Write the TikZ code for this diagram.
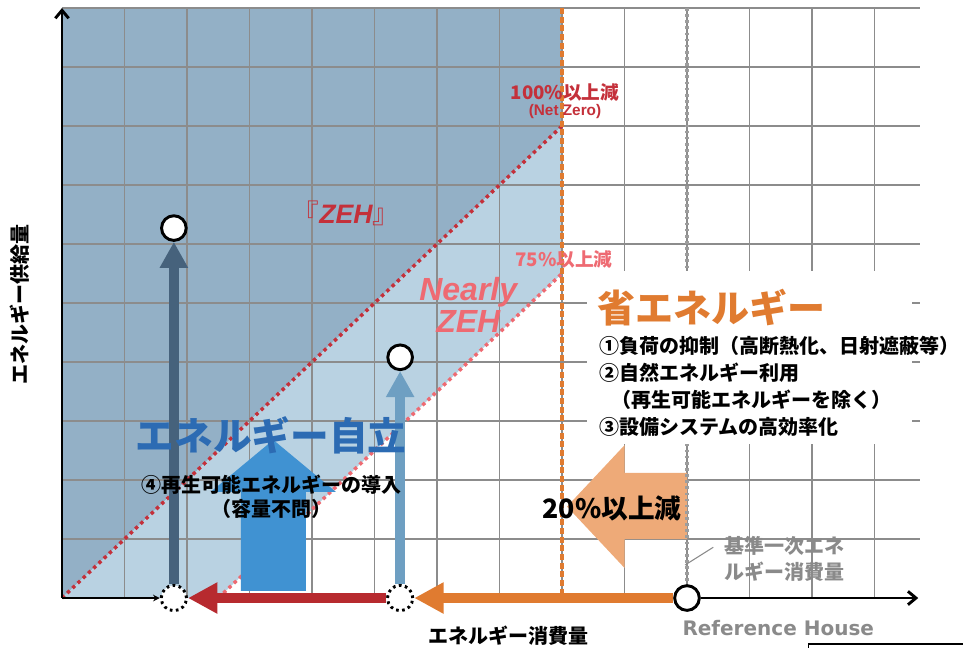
\documentclass[tikz,border=0pt]{standalone}
\usepackage{fontspec}
\setmainfont{Noto Sans CJK JP}
\newfontfamily\latinfont{Liberation Sans}
\newfontfamily\widefont{DejaVu Sans}
\usetikzlibrary{arrows.meta}

\definecolor{zehblue}{HTML}{93B0C6}
\definecolor{nearlyblue}{HTML}{B9D2E2}
\definecolor{gridgray}{HTML}{8C8C8C}
\definecolor{zehred}{HTML}{C4303A}
\definecolor{nearlyred}{HTML}{EE6A72}
\definecolor{saveorange}{HTML}{E07B30}
\definecolor{paleorange}{HTML}{EEAA78}
\definecolor{cutred}{HTML}{B72A2F}
\definecolor{slateblue}{HTML}{46627C}
\definecolor{midblue}{HTML}{6E9FC2}
\definecolor{pvblue}{HTML}{4092D2}
\definecolor{titleblue}{HTML}{2C6BB3}
\definecolor{labelgray}{HTML}{8A8A8A}

\tikzset{
	gridline/.style={draw=gridgray, line width=0.9pt},
	axisline/.style={line width=2.2pt},
	zeroline/.style={draw=zehred, line width=2.6pt, dash pattern=on 2.6pt off 2.8pt},
	nearlyline/.style={draw=nearlyred, line width=2.6pt, dash pattern=on 2.6pt off 2.8pt},
	flowline/.style={line width=6.8pt, -{Triangle[length=22pt,width=22pt]}},
	riseline/.style={line width=7.5pt, -{Triangle[length=19.5pt,width=20pt]}},
	valuedot/.style={circle, draw=black, fill=white, line width=2.2pt, minimum size=18.5pt, inner sep=0pt},
	basedot/.style={circle, draw=black, fill=white, line width=2.2pt, dash pattern=on 2pt off 2.6pt, minimum size=19pt, inner sep=0pt},
	jptext/.style={font=\bfseries\fontsize{#1}{#1}\selectfont, inner sep=0pt},
}

\begin{document}
\begin{tikzpicture}[x=46.875pt, y=44.25pt]
		\useasboundingbox (-0.992,-0.847) rectangle (14.416,10.136);
		
		\fill[zehblue] (0,0) -- (0,10) -- (8,10) -- (8,8) -- cycle;
		\fill[nearlyblue] (0,0) -- (8,8) -- (8,5.5) -- (2.5,0) -- cycle;
		
		\foreach \i in {1,...,13}
			\draw[gridline] (\i,0) -- (\i,10);
		\foreach \j in {1,...,10}
			\draw[gridline] (0,\j) -- (13.72,\j);
		
		\fill[paleorange] (8.08,1.55) -- (9,2.59) -- (9,2.12) -- (10,2.12) -- (10,1.0) -- (9,1.0) -- (9,0.51) -- cycle;
		
		\draw[zeroline] (0,0) -- (8,8);
		\draw[nearlyline] (2.5,0) -- (8,5.5);
		
		\coordinate (O) at (0,0);
		\coordinate (xend) at (13.7,0);
		\coordinate (yend) at (0,10);
		\node[valuedot] (ref) at (10,0) {};
		\node[basedot] (dot1) at (1.79,0) {};
		\node[basedot] (dot2) at (5.41,0) {};
		\node[valuedot] (top1) at (1.79,6.27) {};
		\node[valuedot] (top2) at (5.41,4.08) {};
		
		\draw[draw=saveorange, line width=3.6pt, dash pattern=on 4.5pt off 2pt] (8,10) -- (8,0);
		\draw[draw=gridgray!85, line width=2.4pt, dash pattern=on 2pt off 2.6pt] (10,10) -- (ref.north);
		
		\fill[white] (8.4,2.61) rectangle (13.6,5.54);
		
		\fill[pvblue] (2.86,0.12) -- (2.86,1.80) -- (2.38,1.80) -- (3.38,2.68) -- (4.38,1.80) -- (3.90,1.80) -- (3.90,0.12) -- cycle;
		
		\draw[riseline, slateblue] (dot1.north) -- (top1.south);
		\draw[riseline, midblue] (dot2.north) -- (top2.south);
		
		\node[jptext=15pt, rotate=90] (supplylabel) at (-0.672,4.97) {エネルギー供給量};
		\node[jptext=15pt] (uselabel) at (7.15,-0.644) {エネルギー消費量};
		\node[font=\widefont\bfseries\fontsize{15pt}{15pt}\selectfont, text=labelgray, inner sep=0pt] (reflabel) at (11.46,-0.508) {Reference House};
		
		\node[jptext=14pt, text=zehred] (zerolabel) at (8.048,8.576) {100\%以上減};
		\node[font=\latinfont\bfseries\fontsize{11.5pt}{11.5pt}\selectfont, text=zehred, inner sep=0pt] (netzero) at (8.048,8.237) {(Net Zero)};
		\node[jptext=14pt, text=nearlyred] (nearlypct) at (8.03,5.746) {75\%以上減};
		\node[font=\latinfont\bfseries\itshape\fontsize{24pt}{23.5pt}\selectfont, text=nearlyred, align=center, inner sep=0pt] (nearlylabel) at (6.5,4.97) {Nearly\\ZEH};
		\node[font=\fontsize{20pt}{20pt}\selectfont, text=zehred, inner sep=0pt] (zehlabel) at (4.544,6.525) {『{\latinfont\bfseries\itshape ZEH}』};
		
		\node[jptext=28.5pt, text=saveorange, anchor=west] (savetitle) at (8.56,4.915) {省エネルギー};
		\node[font=\bfseries\fontsize{15pt}{20.25pt}\selectfont, align=left, anchor=west, inner sep=0pt] (savelist) at (8.59,3.585) {①負荷の抑制（高断熱化、日射遮蔽等）\\②自然エネルギー利用\\\hspace*{0.6em}（再生可能エネルギーを除く）\\③設備システムの高効率化};
		\node[jptext=20pt] (cutlabel) at (8.8,1.525) {20\%以上減};
		
		\node[jptext=29pt, text=titleblue] (selflabel) at (3.344,2.763) {エネルギー自立};
		\node[font=\bfseries\fontsize{15pt}{18pt}\selectfont, align=center, inner sep=0pt] (pvlabel) at (3.344,1.71) {④再生可能エネルギーの導入\\（容量不問）};
		
		\node[font=\bfseries\fontsize{15pt}{19.5pt}\selectfont, text=labelgray, align=left, anchor=west, inner sep=0pt] (baselabel) at (10.6,0.66) {基準一次エネ\\ルギー消費量};
		\coordinate (leaderhead) at (10.42,0.86);
		\coordinate (leaderfoot) at (9.97,0.56);
		\draw[labelgray, line width=0.8pt] (leaderhead) -- (leaderfoot);
		
		\draw[axisline, -{Straight Barb[length=6pt,width=10pt]}] (O) -- (yend);
		\draw[axisline, -{Stealth[length=5pt,width=5pt]}] (O) -- (dot1.west);
		\draw[axisline, -{Straight Barb[length=6pt,width=10pt]}] (ref.east) -- (xend);
		
		\draw[flowline, saveorange] (ref.west) -- (dot2.east);
		\draw[flowline, cutred] (dot2.west) -- (dot1.east);
		
		\draw[line width=1.1pt] (11.94,-1) |- (14.6,-0.78);
		
	\end{tikzpicture}
\end{document}
